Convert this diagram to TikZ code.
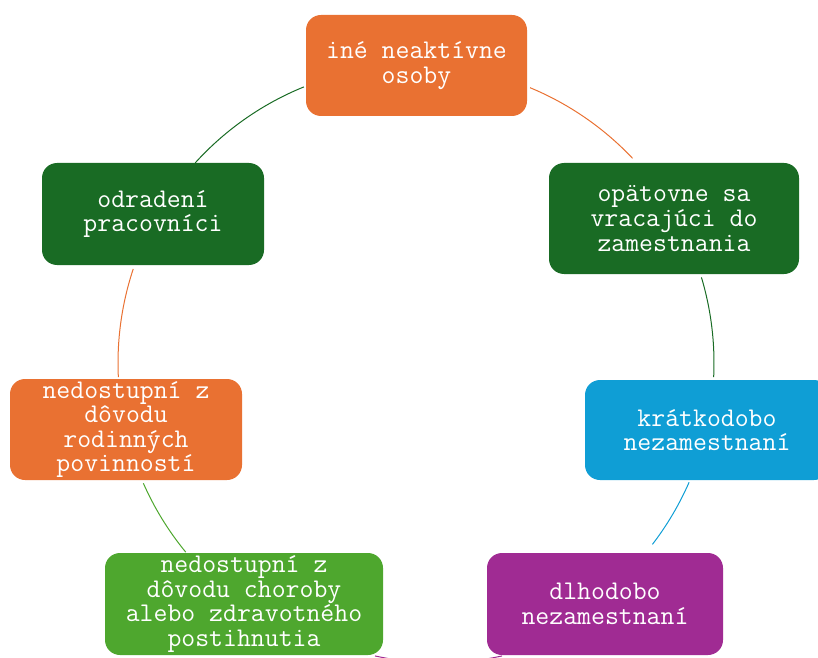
\documentclass[tikz,border=0pt]{standalone}
\usepackage{fontspec}
\definecolor{corange}{HTML}{E97132}
\definecolor{cdgreen}{HTML}{196B24}
\definecolor{cblue}{HTML}{0F9ED5}
\definecolor{cpurple}{HTML}{A02B93}
\definecolor{cgreen}{HTML}{4EA72E}
\tikzset{
  box/.style={rounded corners=15pt, inner sep=0pt, align=center, text=white,
    font=\ttfamily\fontsize{27}{24.6}\selectfont},
  link/.style={line width=1pt}
}
\begin{document}
\begin{tikzpicture}[x=1pt,y=1pt]
\useasboundingbox (0,0) rectangle (818,657);
\clip (0,0) rectangle (818,657);
\coordinate (c) at (416,294);
\coordinate (cb) at (438.5,292.2);
% nodes
\node[box, fill=corange, minimum width=221pt, minimum height=101pt] (n1) at (416.5,591.5) {iné neaktívne\\osoby};
\node[box, fill=cdgreen, minimum width=250pt, minimum height=111pt] (n2) at (674,438.5) {opätovne sa\\vracajúci do\\zamestnania};
\node[box, fill=cblue, minimum width=244pt, minimum height=100pt] (n3) at (707,227) {krátkodobo\\nezamestnaní};
\node[box, fill=cpurple, minimum width=236pt, minimum height=102pt] (n4) at (605,53) {dlhodobo\\nezamestnaní};
\node[box, fill=cgreen, minimum width=278pt, minimum height=102pt] (n5) at (244,53) {nedostupní z\\dôvodu choroby\\alebo zdravotného\\postihnutia};
\node[box, fill=corange, minimum width=232pt, minimum height=101pt] (n6) at (126,227.5) {nedostupní z\\dôvodu\\rodinných\\povinností};
\node[box, fill=cdgreen, minimum width=222pt, minimum height=102pt] (n7) at (153,443) {odradení\\pracovníci};
% connectors (arcs of the cycle)
\draw[link, corange] ([shift={(c)}]67.5:298) arc[start angle=67.5, end angle=43.4, radius=298];
\draw[link, cdgreen] ([shift={(c)}]16.7:298) arc[start angle=16.7, end angle=-2.7, radius=298];
\draw[link, cblue] ([shift={(c)}]-23.6:298) arc[start angle=-23.6, end angle=-37.5, radius=298];
\draw[link, cpurple] ([shift={(cb)}]-77.7:298) arc[start angle=-77.7, end angle=-102.3, radius=298];
\draw[link, cgreen] ([shift={(c)}]219.4:298) arc[start angle=219.4, end angle=203.8, radius=298];
\draw[link, corange] ([shift={(c)}]182.7:298) arc[start angle=182.7, end angle=161.6, radius=298];
\draw[link, cdgreen] ([shift={(c)}]137.8:298) arc[start angle=137.8, end angle=112.1, radius=298];
\end{tikzpicture}
\end{document}
